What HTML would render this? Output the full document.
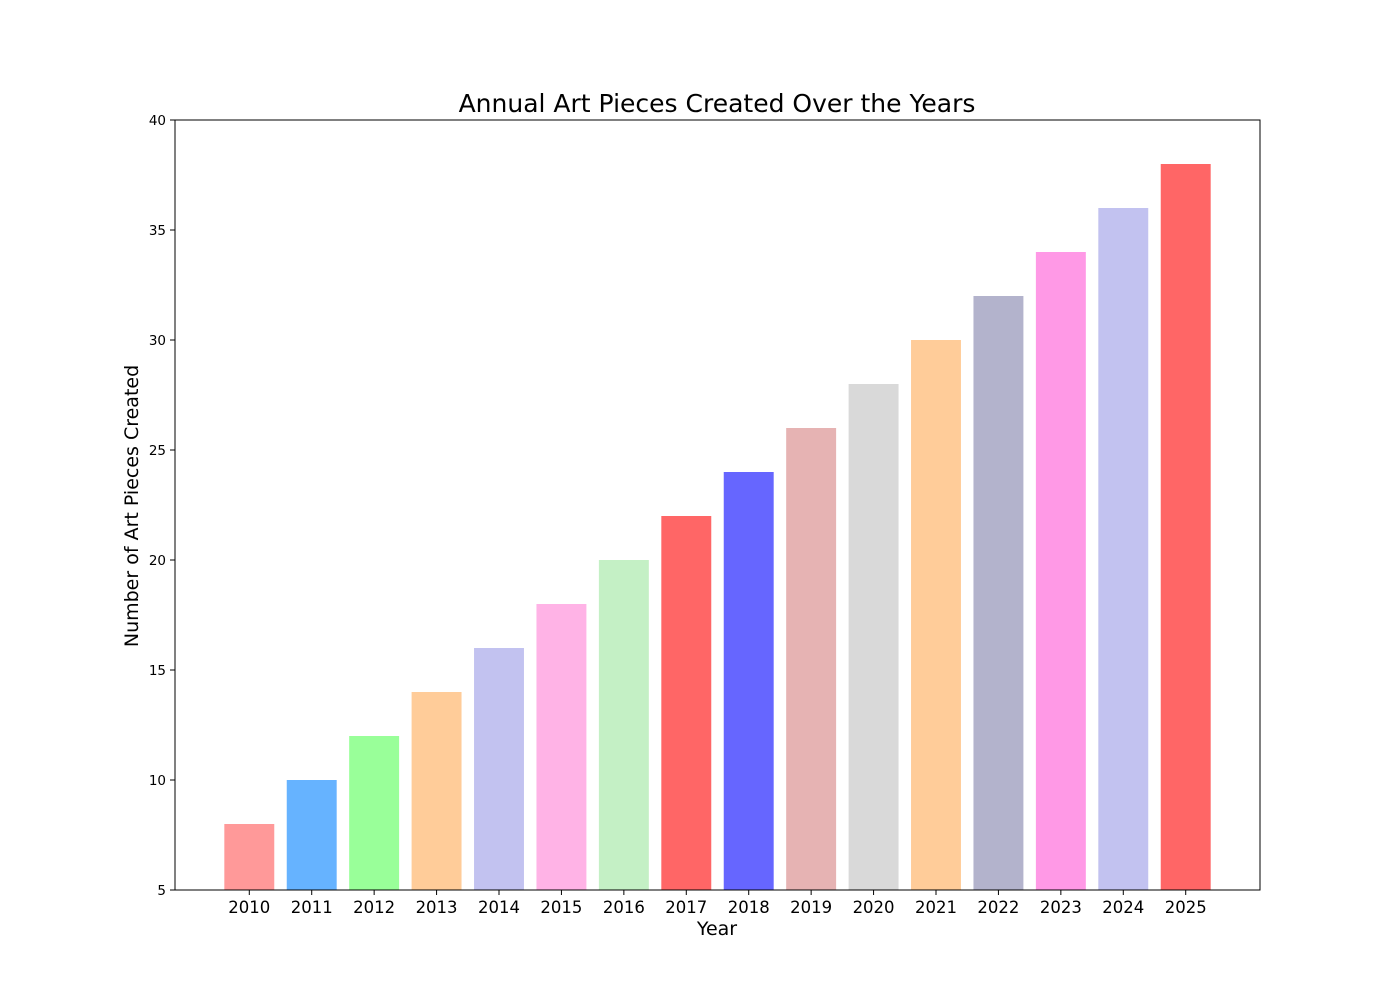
<!DOCTYPE html>
<html><head><meta charset="utf-8"><style>
body{margin:0;background:#fff;font-family:"Liberation Sans","DejaVu Sans",sans-serif;}
svg text{font-family:"DejaVu Sans","Liberation Sans",sans-serif;}
</style></head><body>
<svg id="chart" width="1400" height="1000" xmlns="http://www.w3.org/2000/svg">
<rect width="1400" height="1000" fill="#fff"/>
<text x="717" y="112" font-size="25" text-anchor="middle">Annual Art Pieces Created Over the Years</text>
<text x="717" y="935" font-size="19" text-anchor="middle">Year</text>
<text transform="translate(138,506) rotate(-90)" font-size="19" text-anchor="middle">Number of Art Pieces Created</text>
<g id="bars"></g><g id="ticks"></g>
<rect x="175" y="120" width="1085" height="770" fill="none" stroke="#000" stroke-width="1"/>
</svg>
<script>
const categories=["2010","2011","2012","2013","2014","2015","2016","2017","2018","2019","2020","2021","2022","2023","2024","2025"];
const values=[8,10,12,14,16,18,20,22,24,26,28,30,32,34,36,38];
const colors=["#ff9999","#66b3ff","#99ff99","#ffcc99","#c2c2f0","#ffb3e6","#c4f0c5","#ff6666","#6666ff","#e6b3b3","#d9d9d9","#ffcc99","#b3b3cc","#ff99e6","#c2c2f0","#ff6666"];
const yTicks=[5,10,15,20,25,30,35,40];
const NS="http://www.w3.org/2000/svg";
const L=175,R=1260,T=120,B=890,ymin=5,ymax=40;
const n=categories.length;
const xmin=-0.4-0.05*(n-1+0.8),xmax=n-1+0.4+0.05*(n-1+0.8);
const xs=i=>L+(i-xmin)/(xmax-xmin)*(R-L);
const ys=v=>B-(v-ymin)/(ymax-ymin)*(B-T);
const unit=(R-L)/(xmax-xmin);
const bars=document.getElementById('bars'),ticks=document.getElementById('ticks');
function mk(t,a){const e=document.createElementNS(NS,t);for(const k in a)e.setAttribute(k,a[k]);return e;}
values.forEach((v,i)=>{
 const r=mk('rect',{x:xs(i)-0.4*unit,y:ys(v),width:0.8*unit,height:B-ys(v),fill:colors[i]});
 
 
 bars.appendChild(r);
 const tk=mk('line',{x1:xs(i),x2:xs(i),y1:B,y2:B+5,stroke:'#000'});
 
 
 ticks.appendChild(tk);
 const tl=mk('text',{x:xs(i),y:B+23,'font-size':16.5,'text-anchor':'middle'});
 tl.textContent=categories[i];
 
 
 ticks.appendChild(tl);
});
yTicks.forEach(v=>{
 const tk=mk('line',{x1:L-5,x2:L,y1:ys(v),y2:ys(v),stroke:'#000'});
 
 
 ticks.appendChild(tk);
 const tl=mk('text',{x:L-9,y:ys(v)+5,'font-size':13.5,'text-anchor':'end'});
 tl.textContent=v;
 
 
 ticks.appendChild(tl);
});
</script>
</body></html>
